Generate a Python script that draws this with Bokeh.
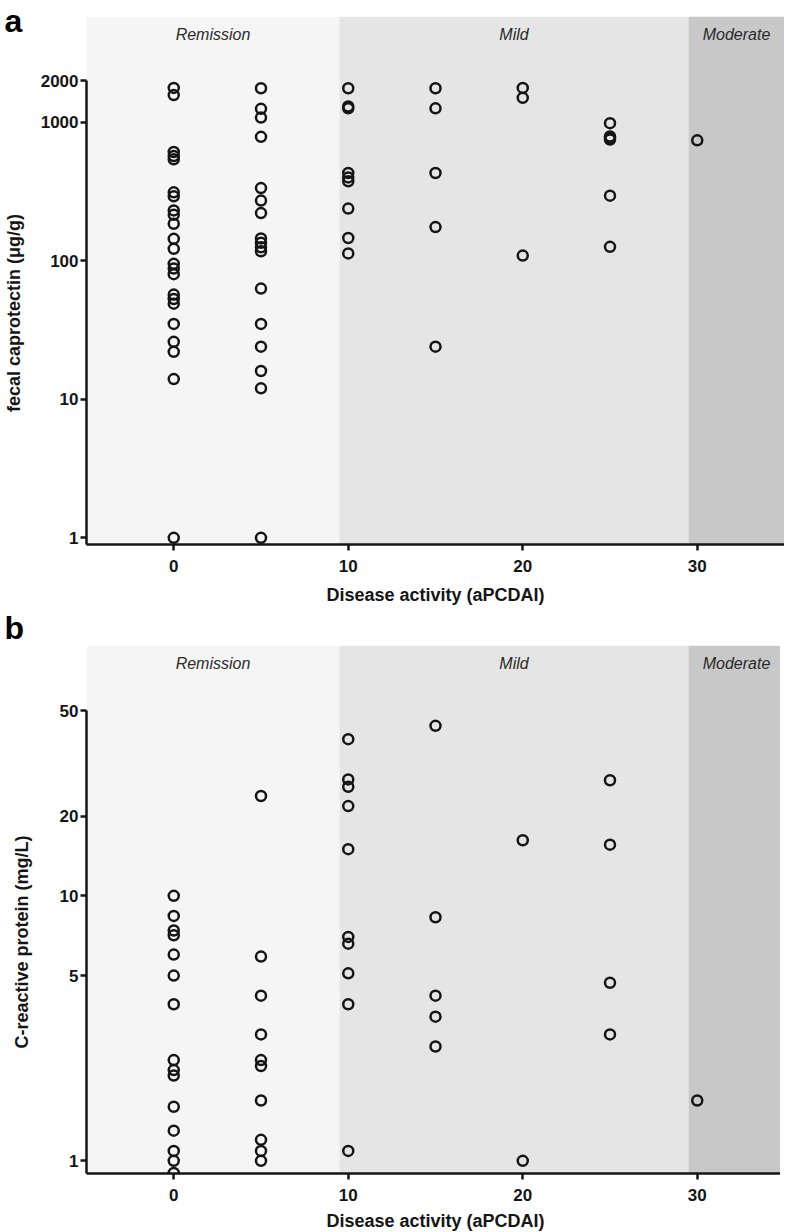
from bokeh.plotting import figure
from bokeh.layouts import column
from bokeh.models import (BoxAnnotation, Label, FixedTicker, NumeralTickFormatter,
                          Range1d, ColumnDataSource, Title)
from bokeh.embed import file_html
from bokeh.resources import INLINE

# ---------------- data ----------------
x_ticks = [0, 10, 20, 30]
band_edges = [-5, 9.5, 29.5, 35]
band_names = ["Remission", "Mild", "Moderate"]
band_colors = ["#f5f5f5", "#e5e5e5", "#c8c8c8"]

activity_levels = [0, 5, 10, 15, 20, 25, 30]

# panel a: fecal calprotectin (ug/g)
calpro_0 = [1770, 1570, 610, 570, 540, 312, 292, 231, 215, 185, 144, 122, 95, 88, 80,
            57, 53, 49, 35, 26, 22, 14, 1]
calpro_5 = [1760, 1250, 1080, 785, 335, 272, 221, 145, 135, 125, 117, 63, 35, 24, 16, 12, 1]
calpro_10 = [1760, 1300, 1260, 430, 400, 375, 238, 146, 113]
calpro_15 = [1760, 1260, 430, 175, 24]
calpro_20 = [1770, 1500, 109]
calpro_25 = [985, 790, 770, 750, 295, 126]
calpro_30 = [740]
calpro_ticks = [1, 10, 100, 1000, 2000]

# panel b: C-reactive protein (mg/L)
crp_0 = [10, 8.4, 7.4, 7.1, 6.0, 5.0, 3.9, 2.4, 2.2, 2.1, 1.6, 1.3, 1.09, 1.0, 0.9]
crp_5 = [23.8, 5.9, 4.2, 3.0, 2.4, 2.28, 1.69, 1.2, 1.09, 1.0]
crp_10 = [39, 27.5, 25.8, 21.8, 15.0, 7.0, 6.6, 5.1, 3.9, 1.09]
crp_15 = [43.8, 8.3, 4.2, 3.5, 2.7]
crp_20 = [16.2, 1.0]
crp_25 = [27.3, 15.6, 4.7, 3.0]
crp_30 = [1.69]
crp_ticks = [1, 5, 10, 20, 50]

FONT = "Liberation Sans"
INK = "#151515"
FRAME_W = 698
FRAME_H = 528
LEFT = 82
PAD = "\u00a0" * 13  # shifts the rotated axis title toward the axis-line centre


def build_source(groups):
    xs, ys = [], []
    for lvl, vals in zip(activity_levels, groups):
        xs += [lvl] * len(vals)
        ys += vals
    return ColumnDataSource(dict(x=xs, y=ys))


def make_panel(letter, letter_standoff, groups, y_range, ticks, ylabel, top_border,
               bottom_border, ylabel_standoff, xlabel_standoff):
    p = figure(frame_width=FRAME_W, frame_height=FRAME_H, y_axis_type="log",
               x_range=Range1d(band_edges[0], band_edges[-1]), y_range=Range1d(*y_range),
               output_backend="svg", toolbar_location=None,
               min_border_left=LEFT, min_border_right=0,
               min_border_top=top_border, min_border_bottom=bottom_border)
    p.outline_line_color = None
    p.background_fill_color = "white"
    p.border_fill_color = "white"
    p.xgrid.visible = False
    p.ygrid.visible = False

    p.add_layout(Title(text=letter, align="left", offset=-LEFT, standoff=letter_standoff,
                       text_font=FONT, text_font_style="bold", text_font_size="32px",
                       text_color="black", vertical_align="bottom"), "above")

    for i, name in enumerate(band_names):
        p.add_layout(BoxAnnotation(left=band_edges[i], right=band_edges[i + 1],
                                   fill_color=band_colors[i], fill_alpha=1.0,
                                   line_color=None, level="underlay"))
        p.add_layout(Label(x=(band_edges[i] + band_edges[i + 1]) / 2, x_units="data",
                           y=FRAME_H - 18, y_units="screen", text=name,
                           text_align="center", text_baseline="middle",
                           text_font=FONT, text_font_style="italic",
                           text_font_size="16px", text_color="#2a2a2a"))

    src = build_source(groups)
    p.scatter("x", "y", source=src, marker="circle", size=10, fill_color=None,
              line_color=INK, line_width=2.5)

    for ax in (p.xaxis[0], p.yaxis[0]):
        ax.axis_line_width = 2.5
        ax.axis_line_color = INK
        ax.major_tick_line_width = 2.5
        ax.major_tick_line_color = INK
        ax.major_tick_out = 6
        ax.major_tick_in = 0
        ax.minor_tick_line_color = None
        ax.major_label_text_font = FONT
        ax.major_label_text_font_style = "bold"
        ax.major_label_text_font_size = "17px"
        ax.major_label_text_color = INK
        ax.axis_label_text_font = FONT
        ax.axis_label_text_font_style = "bold"
        ax.axis_label_text_font_size = "18px"
        ax.axis_label_text_color = INK

    p.xaxis.ticker = FixedTicker(ticks=x_ticks)
    p.xaxis.major_label_standoff = 9
    p.xaxis.axis_label = "Disease activity (aPCDAI)"
    p.xaxis.axis_label_standoff = xlabel_standoff

    p.yaxis.ticker = FixedTicker(ticks=ticks)
    p.yaxis.formatter = NumeralTickFormatter(format="0")
    p.yaxis.bounds = (y_range[0], ticks[-1])
    p.yaxis.major_label_standoff = 2
    p.yaxis.axis_label = ylabel + PAD
    p.yaxis.axis_label_standoff = ylabel_standoff
    return p


pa = make_panel("a", -44,
                [calpro_0, calpro_5, calpro_10, calpro_15, calpro_20, calpro_25, calpro_30],
                (0.895, 5800), calpro_ticks, "fecal caprotectin (μg/g)",
                top_border=16, bottom_border=62, ylabel_standoff=14, xlabel_standoff=10)
pb = make_panel("b", 0,
                [crp_0, crp_5, crp_10, crp_15, crp_20, crp_25, crp_30],
                (0.896, 88), crp_ticks, "C-reactive protein (mg/L)",
                top_border=37, bottom_border=56, ylabel_standoff=25, xlabel_standoff=7)

layout = column(pa, pb, spacing=0)
p = layout
open("out.html", "w").write(file_html(p, INLINE))
